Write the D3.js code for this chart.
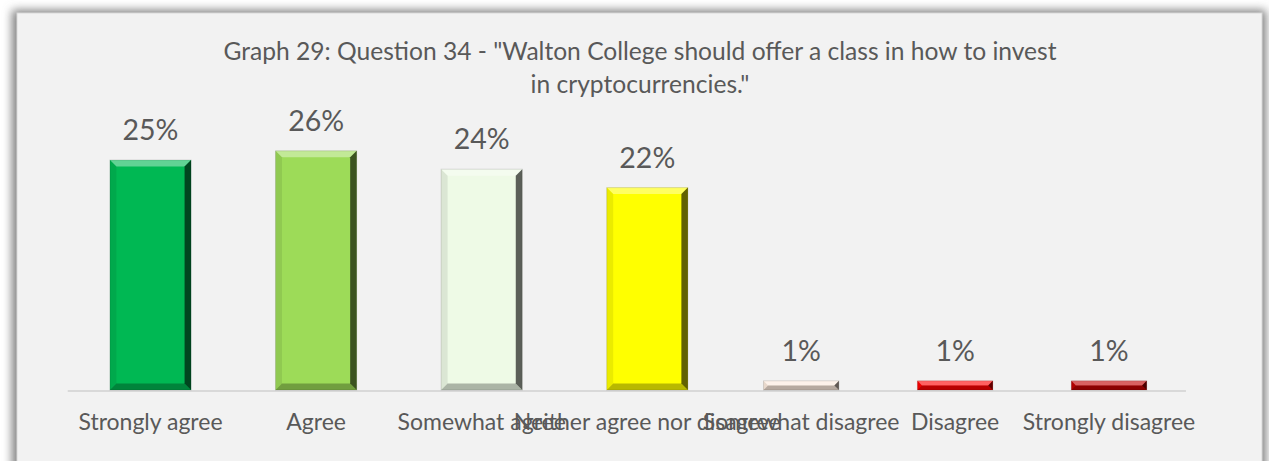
<!DOCTYPE html>
<html>
<head>
<meta charset="utf-8">
<script src="https://cdn.jsdelivr.net/npm/d3@7/dist/d3.min.js"></script>
<style>
  html, body { margin: 0; padding: 0; background: #ffffff; }
  svg { display: block; }
  text { font-family: Lato, "Open Sans", sans-serif; fill: #595959; }
</style>
</head>
<body>
<svg id="chart" width="1269" height="461"></svg>
<script>
// Survey responses (percent of respondents)
const categories = [
  "Strongly agree", "Agree", "Somewhat agree", "Neither agree nor disagree",
  "Somewhat disagree", "Disagree", "Strongly disagree"
];
const values = [25, 26, 24, 22, 1, 1, 1];
const barColors = ["#00b853", "#9ddb58", "#eefae6", "#ffff00", "#fcebdd", "#ff0000", "#c00000"];
const titleLines = [
  "Graph 29: Question 34 - \"Walton College should offer a class in how to invest",
  "in cryptocurrencies.\""
];

const W = 1269, H = 461;
const svg = d3.select("#chart");
const defs = svg.append("defs");

// soft shadow around the chart panel
const shadow = defs.append("filter").attr("id", "panelShadow")
  .attr("x", "-5%").attr("y", "-10%").attr("width", "110%").attr("height", "120%");
shadow.append("feGaussianBlur").attr("in", "SourceGraphic").attr("stdDeviation", 5);

const panel = { x: 17, y: 13, w: 1245, h: 470 };
svg.append("rect")
  .attr("x", panel.x - 5).attr("y", panel.y - 3)
  .attr("width", panel.w + 9).attr("height", panel.h + 6)
  .attr("fill", "#808080").attr("filter", "url(#panelShadow)");
svg.append("rect")
  .attr("x", panel.x).attr("y", panel.y)
  .attr("width", panel.w).attr("height", panel.h)
  .attr("fill", "#f2f2f2").attr("stroke", "#d9d9d9").attr("stroke-width", 1);

// title
svg.append("g").selectAll("text").data(titleLines).join("text")
  .attr("x", 640).attr("y", (d, i) => 60 + i * 33)
  .attr("text-anchor", "middle")
  .style("font-size", "24.6px")
  .text(d => d);

// scales: category centres and value heights
const baseY = 390;
const x = d3.scaleLinear().domain([0, 3, 6]).range([150.5, 647.3, 1109]);
const y = d3.scaleLinear().domain([0, 30]).range([baseY, 114]);
const step = i => i > 0 ? x(i) - x(i - 1) : x(1) - x(0);
const barW = i => step(i) * 0.49;

// category axis line
svg.append("line")
  .attr("x1", x(-0.5)).attr("x2", x(categories.length - 0.5))
  .attr("y1", baseY + 1).attr("y2", baseY + 1)
  .attr("stroke", "#d9d9d9").attr("stroke-width", 2);

const bars = categories.map((c, i) => {
  const w = barW(i);
  return { c, v: values[i], color: barColors[i],
           x0: x(i) - w / 2, x1: x(i) + w / 2, y0: y(values[i]), y1: y(0) };
});

// bevelled bars
const bg = svg.append("g");
bars.forEach(b => {
  const g = bg.append("g");
  const bv = Math.min(6.5, (b.y1 - b.y0) / 2);
  g.append("rect")
    .attr("x", b.x0).attr("y", b.y0)
    .attr("width", b.x1 - b.x0).attr("height", b.y1 - b.y0)
    .attr("fill", b.color);
  const poly = pts => pts.map(p => p.join(",")).join(" ");
  // top facet
  g.append("polygon")
    .attr("points", poly([[b.x0, b.y0], [b.x1, b.y0], [b.x1 - bv, b.y0 + bv], [b.x0 + bv, b.y0 + bv]]))
    .attr("fill", "#ffffff").attr("fill-opacity", 0.38);
  // left facet
  g.append("polygon")
    .attr("points", poly([[b.x0, b.y0], [b.x0 + bv, b.y0 + bv], [b.x0 + bv, b.y1 - bv], [b.x0, b.y1]]))
    .attr("fill", "#000000").attr("fill-opacity", 0.08);
  // bottom facet
  g.append("polygon")
    .attr("points", poly([[b.x0, b.y1], [b.x0 + bv, b.y1 - bv], [b.x1 - bv, b.y1 - bv], [b.x1, b.y1]]))
    .attr("fill", "#000000").attr("fill-opacity", 0.28);
  // right facet
  g.append("polygon")
    .attr("points", poly([[b.x1, b.y0], [b.x1, b.y1], [b.x1 - bv, b.y1 - bv], [b.x1 - bv, b.y0 + bv]]))
    .attr("fill", "#000000").attr("fill-opacity", 0.62);
  g.append("rect")
    .attr("x", b.x0).attr("y", b.y0)
    .attr("width", b.x1 - b.x0).attr("height", b.y1 - b.y0)
    .attr("fill", "none").attr("stroke", "#000000").attr("stroke-opacity", 0.12).attr("stroke-width", 1);
});

// value labels
svg.append("g").selectAll("text").data(bars).join("text")
  .attr("x", (d, i) => x(i)).attr("y", d => d.y0 - 20)
  .attr("text-anchor", "middle")
  .style("font-size", "28.5px")
  .text(d => d.v + "%");

// category labels
svg.append("g").selectAll("text").data(categories).join("text")
  .attr("x", (d, i) => x(i)).attr("y", 429.5)
  .attr("text-anchor", "middle")
  .style("font-size", "23px")
  .text(d => d);
</script>
</body>
</html>
